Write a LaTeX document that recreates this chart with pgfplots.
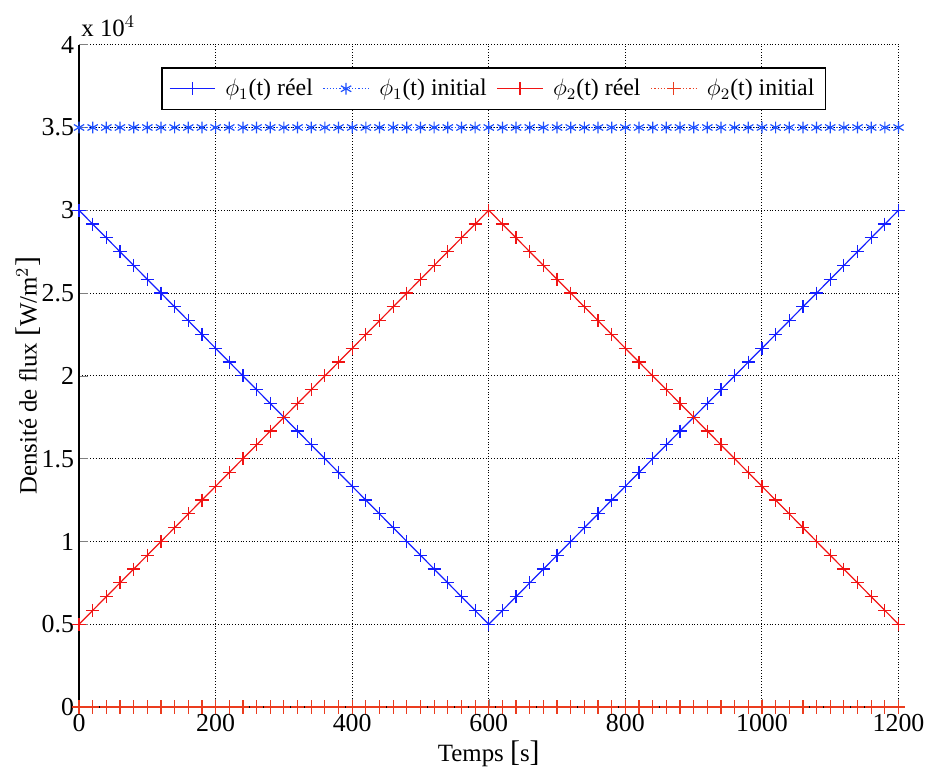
\documentclass[border=0pt]{standalone}
\usepackage{pgfplots}
\usepackage{pgfplotstable}
\pgfplotsset{compat=1.18}
\usepackage{fontspec}
\setmainfont{Liberation Serif}
\pgfplotstableread{
t p1 p2 i1 i2
0 30000 5000 35000 0
20 29166.7 5833.3 35000 0
40 28333.3 6666.7 35000 0
60 27500 7500 35000 0
80 26666.7 8333.3 35000 0
100 25833.3 9166.7 35000 0
120 25000 10000 35000 0
140 24166.7 10833.3 35000 0
160 23333.3 11666.7 35000 0
180 22500 12500 35000 0
200 21666.7 13333.3 35000 0
220 20833.3 14166.7 35000 0
240 20000 15000 35000 0
260 19166.7 15833.3 35000 0
280 18333.3 16666.7 35000 0
300 17500 17500 35000 0
320 16666.7 18333.3 35000 0
340 15833.3 19166.7 35000 0
360 15000 20000 35000 0
380 14166.7 20833.3 35000 0
400 13333.3 21666.7 35000 0
420 12500 22500 35000 0
440 11666.7 23333.3 35000 0
460 10833.3 24166.7 35000 0
480 10000 25000 35000 0
500 9166.7 25833.3 35000 0
520 8333.3 26666.7 35000 0
540 7500 27500 35000 0
560 6666.7 28333.3 35000 0
580 5833.3 29166.7 35000 0
600 5000 30000 35000 0
620 5833.3 29166.7 35000 0
640 6666.7 28333.3 35000 0
660 7500 27500 35000 0
680 8333.3 26666.7 35000 0
700 9166.7 25833.3 35000 0
720 10000 25000 35000 0
740 10833.3 24166.7 35000 0
760 11666.7 23333.3 35000 0
780 12500 22500 35000 0
800 13333.3 21666.7 35000 0
820 14166.7 20833.3 35000 0
840 15000 20000 35000 0
860 15833.3 19166.7 35000 0
880 16666.7 18333.3 35000 0
900 17500 17500 35000 0
920 18333.3 16666.7 35000 0
940 19166.7 15833.3 35000 0
960 20000 15000 35000 0
980 20833.3 14166.7 35000 0
1000 21666.7 13333.3 35000 0
1020 22500 12500 35000 0
1040 23333.3 11666.7 35000 0
1060 24166.7 10833.3 35000 0
1080 25000 10000 35000 0
1100 25833.3 9166.7 35000 0
1120 26666.7 8333.3 35000 0
1140 27500 7500 35000 0
1160 28333.3 6666.7 35000 0
1180 29166.7 5833.3 35000 0
1200 30000 5000 35000 0
}\data
\definecolor{mblue}{RGB}{20,30,255}
\definecolor{mblue2}{RGB}{30,80,255}
\definecolor{mred}{RGB}{240,20,20}
\definecolor{mred2}{RGB}{235,60,30}
\newcommand{\bigbr}[1]{{\fontsize{15}{15}\selectfont[}#1{\fontsize{15}{15}\selectfont]}}
\begin{document}
\begin{tikzpicture}
\begin{axis}[
  scale only axis,
  width=412pt, height=333pt,
  xmin=0, xmax=1200, ymin=0, ymax=40000,
  xtick={0,200,...,1200},
  ytick={0,5000,...,40000},
  yticklabels={0,0.5,1,1.5,2,2.5,3,3.5,4},
  scaled y ticks=false,
  /pgf/number format/assume math mode=true,
  xticklabel style={/pgf/number format/1000 sep={}},
  yticklabel style={xshift=1pt},
  tick align=inside,
  axis x line*=bottom, axis y line*=left,
  axis line style={black, line width=0.6pt, -},
  grid=major,
  major grid style={black, densely dotted, line width=0.5pt},
  ticklabel style={font=\fontsize{13}{15}\selectfont},
  label style={font=\fontsize{12.5}{15}\selectfont},
  xlabel={Temps \bigbr{s}},
  ylabel={Densité de flux \bigbr{W/m$^2$}},
  xlabel style={yshift=2pt},
  ylabel style={inner sep=0pt, yshift=-3pt},
  legend columns=4,
  legend style={at={(0.506,0.966)}, anchor=north, draw=black, line width=0.8pt,
    font=\fontsize{12}{14}\selectfont, column sep=3pt, inner sep=3.5pt},
  legend image code/.code={\draw[mark repeat=2,mark phase=2] plot coordinates {(0cm,0cm) (0.4cm,0cm) (0.8cm,0cm)};},
  legend cell align=left,
  clip=false,
]
\addplot[mblue, line width=0.6pt, mark=+, mark size=3.3pt, mark options={solid}] table[x=t, y=p1] {\data};
\addlegendentry{$\phi_1$(t) réel}
\addplot[mblue2, densely dotted, line width=0.6pt, mark=asterisk, mark size=3pt, mark options={solid}] table[x=t, y=i1] {\data};
\addlegendentry{$\phi_1$(t) initial}
\addplot[mred, line width=0.6pt, mark=+, mark size=3.3pt, mark options={solid}] table[x=t, y=p2] {\data};
\addlegendentry{$\phi_2$(t) réel}
\addplot[mred2, densely dotted, line width=0.6pt, mark=+, mark size=3.3pt, mark options={solid}] table[x=t, y=i2] {\data};
\addlegendentry{$\phi_2$(t) initial}
\node[anchor=south west, font=\fontsize{12.5}{15}\selectfont, inner sep=1pt, yshift=3pt] at (rel axis cs:0,1) {x 10$^4$};
\end{axis}
\path ([xshift=-8pt,yshift=7pt]current bounding box.north west);
\end{tikzpicture}
\end{document}
